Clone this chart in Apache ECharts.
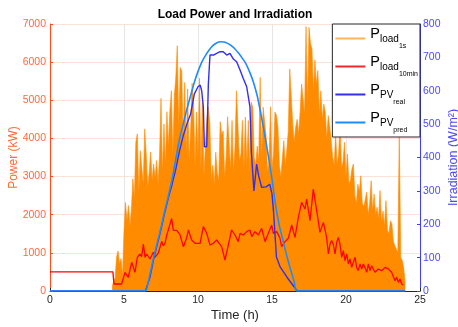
<!DOCTYPE html>
<html>
<head>
<meta charset="utf-8">
<script src="https://cdn.jsdelivr.net/npm/echarts@6/dist/echarts.min.js"></script>
<style>html,body{margin:0;padding:0;background:#fff}#c{width:458px;height:327px}</style>
</head>
<body>
<div id="c"></div>
<script>
// ---------- data ----------
const xTicks = [0, 5, 10, 15, 20, 25];
const powerTicks = [0, 1000, 2000, 3000, 4000, 5000, 6000, 7000];
const irrTicks = [0, 100, 200, 300, 400, 500, 600, 700, 800];

// 1-second load: peak value per 0.1 h from 4.2 h
const loadStart = 4.2;
const loadStep = 0.1;
const load1s = [
  120, 250, 350, 900, 1050, 700, 850, 400,
  1580, 2320, 1850, 2240, 1700, 2150, 2940, 2450, 3900, 4120,
  2600, 3680, 3240, 2800, 4250, 3590, 2700, 3110, 3640, 2900,
  3330, 2980, 3420, 2800, 3550, 5050, 3100, 4380, 3300, 4700,
  3800, 4730, 5250, 3600, 5120, 5600, 6430, 4300, 5860, 5780,
  3900, 5470, 3600, 5300, 3400, 4200, 5450, 4900, 3300, 4690,
  3500, 5580, 3200, 5080, 3000, 3800, 4510, 4830, 4380, 2900,
  3300, 2800, 3640, 3100, 2900, 4440, 4070, 4200, 3000, 3500,
  4570, 4600, 3200, 4470, 3100, 3800, 5250, 5230, 3400, 3600,
  4470, 3200, 4560, 3300, 4470, 3100, 4950, 4810, 3500, 3300,
  3800, 3400, 5600, 3500, 4820, 4790, 4070, 3100, 3400, 4830,
  3200, 3600, 4690, 4610, 4300, 3300, 3000, 3500, 3940, 3300,
  3700, 4200, 5820, 5790, 4380, 3900, 4300, 4500, 4120, 4700,
  5430, 5400, 4650, 6930, 4900, 6910, 6490, 6350, 5200, 6060,
  5430, 5780, 4600, 5250, 4500, 4900, 4690, 4000, 4600, 4300,
  3940, 3500, 3300, 4120, 3300, 3600, 4380, 3200, 3400, 3900,
  3000, 3590, 2800, 2900, 3200, 3330, 2500, 2300, 2800, 2600,
  3020, 2300, 2200, 2400, 2590, 2000, 2300, 2890, 2100, 2540,
  2000, 2200, 1900, 2630, 1800, 2100, 1700, 2370, 1600, 1500,
  1840, 1760, 1300, 1190, 1230, 1000, 4120, 880, 800, 600,
  200
];

// 10-minute load [h, kW]
const load10min = [
  [0,500],[4.25,500],[4.32,184],[4.84,184],[5.07,490],[5.29,360],[5.52,752],[5.74,490],
  [5.9,883],[6.08,970],[6.19,900],[6.31,1232],[6.42,883],[6.53,970],[6.76,839],[6.98,1014],
  [7.09,883],[7.32,1000],[7.55,1300],[7.66,1189],[7.77,1250],[7.88,1451],[8.0,1420],[8.22,1900],
  [8.33,1590],[8.56,1590],[8.78,1480],[9.01,1163],[9.23,1381],[9.35,1600],[9.57,1337],[9.8,1250],
  [9.91,1294],[10.14,1250],[10.36,1687],[10.59,1512],[10.81,1206],[11.04,1250],[11.26,1337],[11.37,1294],
  [11.6,1163],[11.82,813],[12.05,1206],[12.27,1600],[12.5,1468],[12.72,1294],[12.84,1512],[13.06,1468],
  [13.29,1556],[13.51,1600],[13.63,1425],[13.85,1556],[14.08,1468],[14.3,1643],[14.53,1294],[14.75,1512],
  [14.98,1730],[15.09,1512],[15.32,1556],[15.54,1381],[15.65,1163],[15.88,1294],[16.1,1381],[16.33,1730],
  [16.55,1407],[16.78,1931],[17.0,2325],[17.23,2150],[17.34,2412],[17.57,1845],[17.79,2674],[18.02,2107],
  [18.24,1538],[18.47,1800],[18.58,1757],[18.69,1407],[18.81,970],[18.92,1232],[19.03,1320],[19.14,1232],
  [19.26,970],[19.37,1276],[19.48,1407],[19.59,1232],[19.71,883],[19.82,1058],[19.93,795],[20.05,970],
  [20.16,708],[20.27,839],[20.38,620],[20.5,752],[20.61,883],[20.72,620],[20.83,533],[20.95,708],
  [21.06,577],[21.17,708],[21.28,620],[21.4,490],[21.51,708],[21.62,533],[21.73,664],[21.96,490],
  [22.18,577],[22.41,533],[22.64,620],[22.86,577],[23.08,490],[23.31,271],[23.42,359],[23.54,227],
  [23.65,315],[23.76,184],[23.87,157]
];

// PV real irradiation [h, W/m2]
const pvReal = [
  [0,0],[6.45,0],[6.75,40],[7.0,95],[7.25,140],[7.5,185],[7.75,235],[8.0,280],[8.25,320],
  [8.5,365],[8.75,420],[9.0,465],[9.25,500],[9.5,530],[9.75,590],[10.0,612],[10.15,617],
  [10.25,600],[10.36,552],[10.43,432],[10.59,432],[10.7,620],[10.81,707],[11.04,707],[11.26,712],
  [11.49,717],[11.7,717],[11.94,707],[12.16,712],[12.39,695],[12.61,687],[12.84,662],[13.06,637],
  [13.29,612],[13.51,552],[13.6,420],[13.78,300],[13.96,380],[14.1,345],[14.3,311],[14.6,312],
  [14.85,320],[15.0,290],[15.1,240],[15.3,102],[15.55,72],[16.0,42],[16.4,18],[16.7,0],[24,0]
];

// PV predicted irradiation [h, W/m2]
const pvPred = [
  [0,0],[6.42,0],[6.6,20],[6.8,60],[7.0,100],[7.25,145],[7.5,190],[7.75,240],[8.0,285],
  [8.25,335],[8.5,395],[8.75,455],[9.0,500],[9.25,545],[9.5,585],[9.75,625],[10.0,658],
  [10.25,685],[10.5,705],[10.75,722],[11.0,735],[11.25,743],[11.5,747],[11.75,746],[12.0,742],
  [12.25,735],[12.5,725],[12.75,712],[13.0,697],[13.25,680],[13.5,655],[13.75,625],[14.0,585],
  [14.25,530],[14.5,470],[14.75,405],[15.0,335],[15.25,255],[15.5,195],[15.75,150],[16.0,105],
  [16.25,65],[16.5,28],[16.7,0],[24,0]
];

// ---------- chart ----------
const FONT = 'Liberation Sans, Arial, Helvetica, sans-serif';
const C_LEFT = '#FF4A1A', C_LEFT_TXT = '#FF6A3A';
const C_RIGHT = '#3D3DFF', C_RIGHT_TXT = '#4A4AFF';
const C_ORANGE = '#FF8C00', C_RED = '#FF0000', C_DBLUE = '#2F2FF2', C_LBLUE = '#1E8CFF';

const loadData = load1s.map((v, i) => [+(loadStart + i * loadStep).toFixed(2), v]);

const legendLabels = {
  'Pload1s':   '{p|P}{s|load}{ss|1s}',
  'Pload10min':'{p|P}{s|load}{ss|10min}',
  'PPVreal':   '{p|P}{s|PV}{ss|real}',
  'PPVpred':   '{p|P}{s|PV}{ss|pred}'
};

const chart = echarts.init(document.getElementById('c'), null, {renderer: 'canvas'});
chart.setOption({
  animation: false,
  textStyle: {fontFamily: FONT},
  title: {
    text: 'Load Power and Irradiation',
    left: 235, top: 9, textAlign: 'center', padding: 0,
    textStyle: {fontSize: 12, fontWeight: 'bold', color: '#000', fontFamily: FONT}
  },
  grid: {left: 50, right: 38, top: 24, bottom: 36, containLabel: false, outerBoundsMode: 'none'},
  legend: {
    orient: 'vertical', right: 38, top: 24,
    backgroundColor: '#fff', borderColor: '#262626', borderWidth: 1,
    padding: [2, 2, 3, 3], itemGap: 4,
    itemWidth: 30, itemHeight: 2,
    formatter: n => legendLabels[n],
    textStyle: {
      fontFamily: FONT, color: '#000',
      rich: {
        p: {fontSize: 14.5, padding: [0, 0, 10, 0], fontFamily: FONT, color: '#000'},
        s: {fontSize: 10, padding: [2, 0, 0, 0], fontFamily: FONT, color: '#000'},
        ss: {fontSize: 7, padding: [16, 0, 0, 0], fontFamily: FONT, color: '#000'}
      }
    },
    data: [
      {name: 'Pload1s', icon: 'rect', itemStyle: {color: '#FFB45A'}},
      {name: 'Pload10min', icon: 'rect', itemStyle: {color: '#F42A2A'}},
      {name: 'PPVreal', icon: 'rect', itemStyle: {color: C_DBLUE}},
      {name: 'PPVpred', icon: 'rect', itemStyle: {color: C_LBLUE}}
    ]
  },
  xAxis: {
    type: 'value', min: xTicks[0], max: xTicks[xTicks.length - 1], interval: 5,
    name: 'Time (h)', nameLocation: 'middle', nameGap: 18, nameMoveOverlap: false,
    nameTextStyle: {fontSize: 13, color: '#262626', fontFamily: FONT},
    axisLine: {lineStyle: {color: '#262626', width: 1}},
    axisTick: {inside: true, length: 3, lineStyle: {color: '#262626'}},
    axisLabel: {fontSize: 10.5, color: '#262626', margin: 4, fontFamily: FONT, formatter: v => String(v)},
    splitLine: {show: true, lineStyle: {color: '#E6E6E6', width: 1}}
  },
  yAxis: [
    {
      type: 'value', position: 'left', min: powerTicks[0], max: powerTicks[powerTicks.length - 1], interval: 1000,
      name: 'Power (kW)', nameLocation: 'middle', nameGap: 30, nameRotate: 90, nameMoveOverlap: false,
      nameTextStyle: {fontSize: 12, color: C_LEFT_TXT, fontFamily: FONT},
      axisLine: {show: true, lineStyle: {color: C_LEFT, width: 1}},
      axisTick: {show: true, inside: true, length: 3, lineStyle: {color: C_LEFT}},
      axisLabel: {fontSize: 10.5, color: C_LEFT_TXT, margin: 4, fontFamily: FONT, formatter: v => String(v)},
      splitLine: {show: true, lineStyle: {color: '#FFE2D6', width: 1}}
    },
    {
      type: 'value', position: 'right', min: irrTicks[0], max: irrTicks[irrTicks.length - 1], interval: 100,
      name: 'Irradiation (W/m²)', nameLocation: 'middle', nameGap: 27, nameRotate: 90, nameMoveOverlap: false,
      nameTextStyle: {fontSize: 12.5, color: C_RIGHT_TXT, fontFamily: FONT},
      axisLine: {show: true, lineStyle: {color: C_RIGHT, width: 1}},
      axisTick: {show: true, inside: true, length: 3, lineStyle: {color: C_RIGHT}},
      axisLabel: {fontSize: 10.5, color: C_RIGHT_TXT, margin: 3, fontFamily: FONT, formatter: v => String(v)},
      splitLine: {show: false}
    }
  ],
  series: [
    {
      name: 'Pload1s', type: 'line', yAxisIndex: 0, data: loadData,
      showSymbol: false, symbol: 'none', z: 1,
      lineStyle: {color: C_ORANGE, width: 0.6},
      areaStyle: {color: C_ORANGE, opacity: 1, origin: 'start'}
    },
    {
      name: 'Pload10min', type: 'line', yAxisIndex: 0, data: load10min,
      showSymbol: false, symbol: 'none', z: 2,
      lineStyle: {color: C_RED, width: 1.3}
    },
    {
      name: 'PPVreal', type: 'line', yAxisIndex: 1, data: pvReal,
      showSymbol: false, symbol: 'none', z: 3,
      lineStyle: {color: C_DBLUE, width: 1.4}
    },
    {
      name: 'PPVpred', type: 'line', yAxisIndex: 1, data: pvPred,
      showSymbol: false, symbol: 'none', z: 4, smooth: 0.3,
      lineStyle: {color: C_LBLUE, width: 1.6}
    }
  ]
});
</script>
</body>
</html>
